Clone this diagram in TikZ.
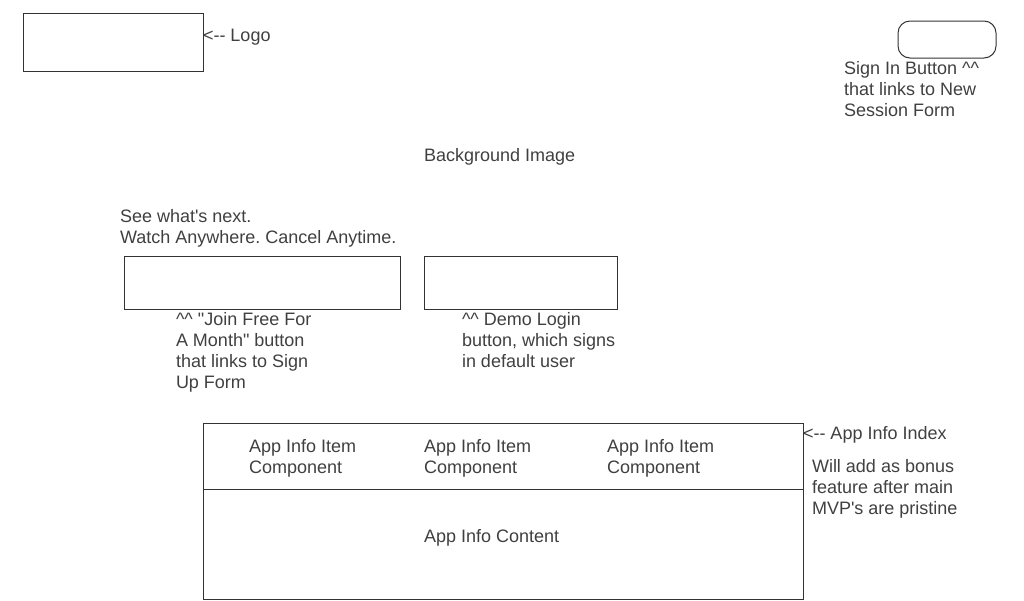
\documentclass[tikz,border=0pt]{standalone}
\usepackage{fontspec}
\setmainfont{Liberation Sans}[Ligatures=TeXOff]
\frenchspacing
\definecolor{txt}{RGB}{64,64,64}
\definecolor{ln}{RGB}{51,51,51}
\tikzset{
  box/.style={draw=ln, line width=1pt, inner sep=0pt, outer sep=0pt, anchor=north west, fill=white},
  lbl/.style={text=txt, inner sep=0pt, outer sep=0pt, anchor=base west, align=left,
    font=\fontsize{18}{21}\selectfont\frenchspacing}
}
\begin{document}
\begin{tikzpicture}[x=1pt,y=-1pt]
\useasboundingbox (0,0) rectangle (1024,600);
% logo
\node[box, minimum width=180pt, minimum height=58pt] (logo) at (23,13) {};
\node[lbl] (logolbl) at (203,41.3) {<-- Logo};
% sign in
\node[box, rounded corners=12pt, minimum width=98pt, minimum height=37pt] (signin) at (898,21) {};
\node[lbl] (signinlbl) at (844,116.3) {Sign In Button \^{}\^{}\\that links to New\\Session Form};
% background
\node[lbl] (bg) at (424,161.3) {Background Image};
\node[lbl] (tag) at (120,243.3) {See what's next.\\Watch Anywhere. Cancel Anytime.};
% buttons
\node[box, minimum width=276pt, minimum height=53pt] (join) at (124,256) {};
\node[box, minimum width=193pt, minimum height=53pt] (demo) at (424,256) {};
\node[lbl] (joinlbl) at (176,388.3) {\^{}\^{} "Join Free For\\A Month" button\\that links to Sign\\Up Form};
\node[lbl] (demolbl) at (462,367.3) {\^{}\^{} Demo Login\\button, which signs\\in default user};
% app info
\node[box, minimum width=600pt, minimum height=176pt] (appinfo) at (203,423) {};
\coordinate (divl) at (203,489);
\coordinate (divr) at (803,489);
\draw[ln, line width=1pt] (divl) -- (divr);
\node[lbl] (item1) at (249,473.3) {App Info Item\\Component};
\node[lbl] (item2) at (424,473.3) {App Info Item\\Component};
\node[lbl] (item3) at (607,473.3) {App Info Item\\Component};
\node[lbl] (content) at (424,542.3) {App Info Content};
\node[lbl] (indexlbl) at (803,439.3) {<-- App Info Index};
\node[lbl] (bonus) at (812,514.3) {Will add as bonus\\feature after main\\MVP's are pristine};
\end{tikzpicture}
\end{document}
